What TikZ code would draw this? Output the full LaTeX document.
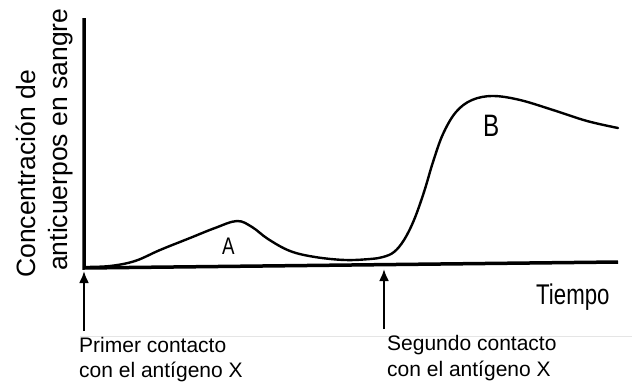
\documentclass[tikz,border=0pt]{standalone}
\usepackage{fontspec}
\setmainfont{Liberation Sans}
\newfontfamily\narrowfont[FakeStretch=0.78]{Liberation Sans}
\usetikzlibrary{arrows.meta}

\begin{document}
\begin{tikzpicture}[x=1pt,y=-1pt]
        \useasboundingbox (0,0) rectangle (636,383);

        \coordinate (o) at (84,268);
        \coordinate (ytop) at (84,18);
        \coordinate (xend) at (618,262);
        \coordinate (a1) at (84,331);
        \coordinate (a1tip) at (84,271);
        \coordinate (a2) at (384,329);
        \coordinate (a2tip) at (384,269);
        \coordinate (g1) at (80,336);
        \coordinate (g2) at (632,336);

        \draw[gray!20, line width=0.8pt] (g1)--(g2);
        \draw[line width=3.5pt] (ytop)--(o)--(xend);
        \draw[line width=2.4pt, line cap=round] plot[smooth, tension=0.6] coordinates {
            (84,267) (110,266) (135,261) (160,250) (190,238) (215,228) (237,221)
            (252,227) (268,239) (290,251) (315,257) (345,260) (370,259) (383,257)
            (394,252) (404,240) (414,220) (424,192) (433,162) (443,134) (456,112)
            (472,100) (493,96) (520,100) (553,110) (587,121) (618,128)};
        \draw[-{Latex[length=12pt,width=10pt]}, line width=2.2pt] (a1)--(a1tip);
        \draw[-{Latex[length=12pt,width=10pt]}, line width=2.2pt] (a2)--(a2tip);

        \node[rotate=90, anchor=base west, inner sep=0, font=\fontsize{26.5}{30}\selectfont] (ylab1) at (35,278) {Concentración de};
        \node[rotate=90, anchor=base west, inner sep=0, font=\fontsize{26.5}{30}\selectfont] (ylab2) at (67,271) {anticuerpos en sangre};

        \node[anchor=base west, inner sep=0, font=\narrowfont\fontsize{28.5}{30}\selectfont] (tiempo) at (536,304) {Tiempo};
        \node[anchor=base west, inner sep=0, font=\narrowfont\fontsize{24}{26}\selectfont] (la) at (222,254) {A};
        \node[anchor=base west, inner sep=0, font=\narrowfont\fontsize{31}{33}\selectfont] (lb) at (483,136) {B};

        \node[anchor=base west, inner sep=0, font=\fontsize{21}{22}\selectfont] (prim1) at (79,352) {Primer contacto};
        \node[anchor=base west, inner sep=0, font=\fontsize{21}{22}\selectfont] (prim2) at (79,377.5) {con el antígeno X};
        \node[anchor=base west, inner sep=0, font=\fontsize{21}{22}\selectfont] (seg1) at (387,350) {Segundo contacto};
        \node[anchor=base west, inner sep=0, font=\fontsize{21}{22}\selectfont] (seg2) at (387,376) {con el antígeno X};

    \end{tikzpicture}
\end{document}
